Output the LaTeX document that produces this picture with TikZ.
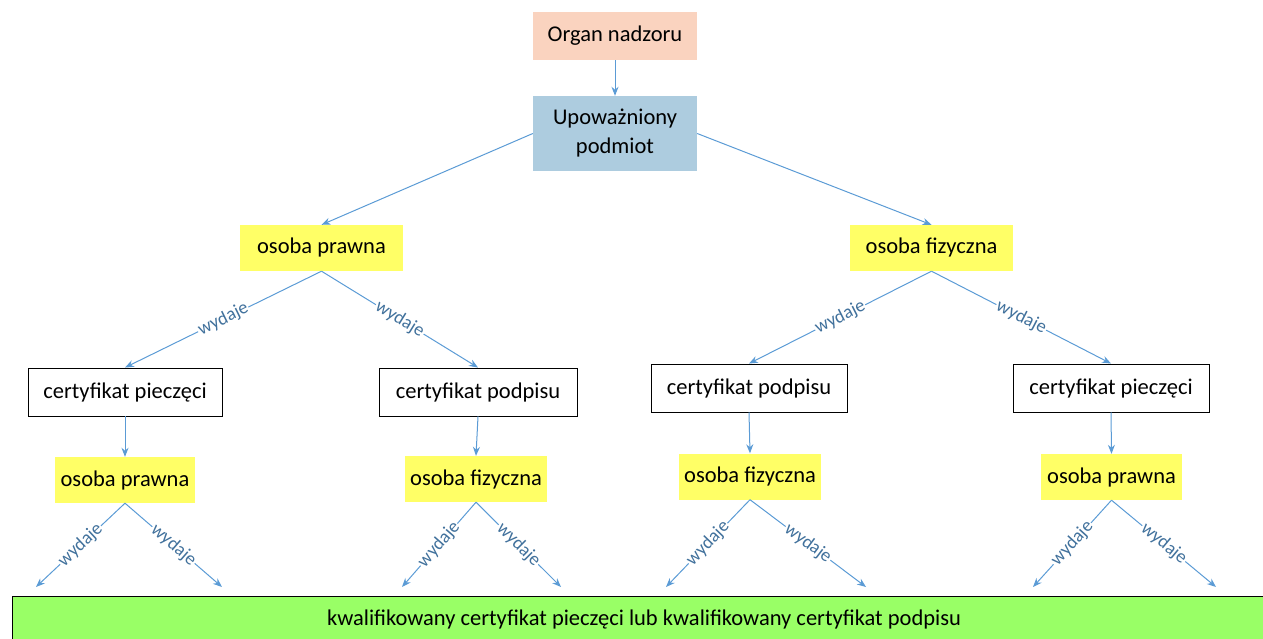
\documentclass[tikz,border=0pt]{standalone}
\usepackage{fontspec}
\setmainfont{Carlito}
\usetikzlibrary{arrows.meta}
\definecolor{lineblue}{HTML}{5B9BD5}
\definecolor{labblue}{HTML}{41719C}
\definecolor{salmon}{HTML}{FAD3BF}
\definecolor{steel}{HTML}{ADCCDF}
\definecolor{yel}{HTML}{FFFF66}
\definecolor{grn}{HTML}{99FF66}
\begin{document}
\begin{tikzpicture}[x=1pt,y=-1pt,
  base/.style={inner sep=0pt, align=center, font=\fontsize{22.5}{29}\selectfont, text=black},
  orgbox/.style={base, fill=salmon, minimum width=164pt, minimum height=48pt},
  upbox/.style={base, fill=steel, minimum width=164pt, minimum height=75pt},
  yelbox/.style={base, fill=yel, minimum height=46pt},
  certbox/.style={base, draw=black, line width=0.9pt, fill=white, minimum height=48pt},
  conn/.style={draw=lineblue, line width=1pt, -{Stealth[length=9pt,width=7pt]}},
  lab/.style={sloped, fill=white, inner sep=1pt, text=labblue, font=\fontsize{18.5}{22}\selectfont}
]
\useasboundingbox (0,0) rectangle (1263,639);

\node[orgbox] (organ) at (615,36) {Organ nadzoru};
\node[upbox] (up) at (615,133.5) {Upoważniony\\podmiot};

\node[yelbox, minimum width=163pt] (op1) at (321.5,248) {osoba prawna};
\node[yelbox, minimum width=163pt] (of1) at (931.5,248) {osoba fizyczna};

\node[certbox, minimum width=194pt] (c1) at (125,392) {certyfikat pieczęci};
\node[certbox, minimum width=198pt] (c2) at (478,392) {certyfikat podpisu};
\node[certbox, minimum width=196pt] (c3) at (749,388) {certyfikat podpisu};
\node[certbox, minimum width=196pt] (c4) at (1111,388) {certyfikat pieczęci};

\node[yelbox, minimum width=140pt] (y1) at (125,480) {osoba prawna};
\node[yelbox, minimum width=142pt] (y2) at (476,479) {osoba fizyczna};
\node[yelbox, minimum width=142pt] (y3) at (750,476.5) {osoba fizyczna};
\node[yelbox, minimum width=141pt] (y4) at (1111.5,477) {osoba prawna};

\node[base, draw=black, line width=0.9pt, fill=grn, minimum width=1260pt, minimum height=50pt, anchor=north west] (bar) at (12,596) {};
\node[base] (bartext) at (644,619) {kwalifikowany certyfikat pieczęci lub kwalifikowany certyfikat podpisu};

% top connectors
\draw[conn] (organ.south) -- (up.north);
\draw[conn] (up.west) -- (op1.north);
\draw[conn] (up.east) -- (of1.north);

% second level
\draw[conn] (op1.south) -- node[lab] {wydaje} (c1.north);
\draw[conn] (op1.south) -- node[lab] {wydaje} (c2.north);
\draw[conn] (of1.south) -- node[lab] {wydaje} (c3.north);
\draw[conn] (of1.south) -- node[lab] {wydaje} (c4.north);

% vertical
\draw[conn] (c1.south) -- (y1.north);
\draw[conn] (c2.south) -- (y2.north);
\draw[conn] (c3.south) -- (y3.north);
\draw[conn] (c4.south) -- (y4.north);

% bottom free ends
\coordinate (e1a) at (36,587);
\coordinate (e1b) at (222,587);
\coordinate (e2a) at (402,587);
\coordinate (e2b) at (561,587);
\coordinate (e3a) at (666,587);
\coordinate (e3b) at (866,587);
\coordinate (e4a) at (1033,587);
\coordinate (e4b) at (1216,587);

\draw[conn] (y1.south) -- node[lab] {wydaje} (e1a);
\draw[conn] (y1.south) -- node[lab] {wydaje} (e1b);
\draw[conn] (y2.south) -- node[lab] {wydaje} (e2a);
\draw[conn] (y2.south) -- node[lab] {wydaje} (e2b);
\draw[conn] (y3.south) -- node[lab] {wydaje} (e3a);
\draw[conn] (y3.south) -- node[lab] {wydaje} (e3b);
\draw[conn] (y4.south) -- node[lab] {wydaje} (e4a);
\draw[conn] (y4.south) -- node[lab] {wydaje} (e4b);
\end{tikzpicture}
\end{document}
